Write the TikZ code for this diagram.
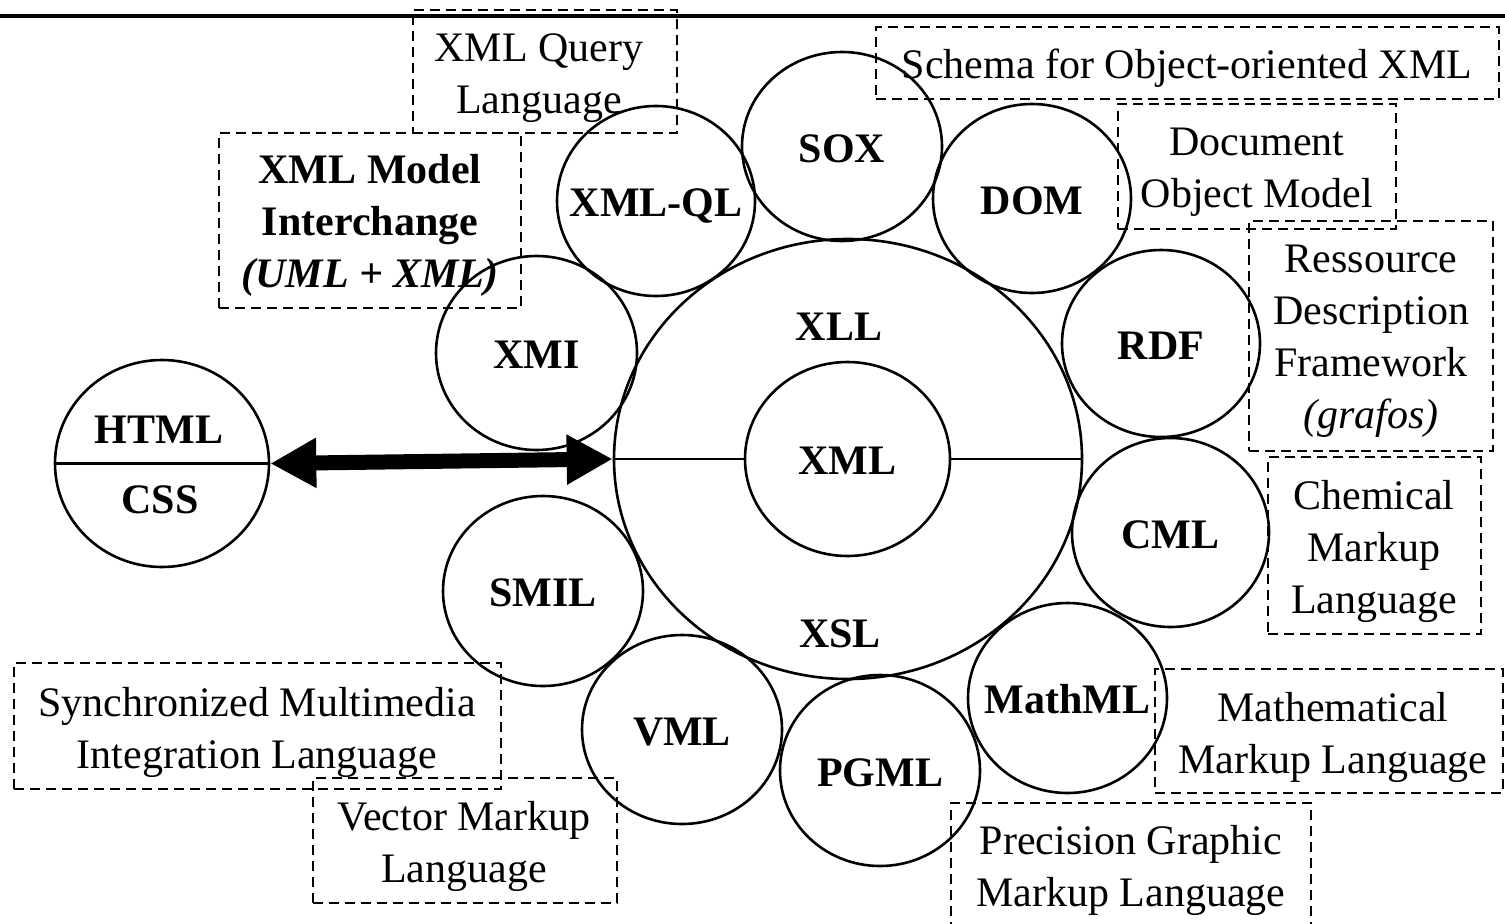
\documentclass[tikz,border=0pt]{standalone}
\usepackage{fontspec}
\setmainfont{Liberation Serif}
\usetikzlibrary{shapes.geometric,arrows.meta}
\begin{document}
\begin{tikzpicture}[x=1bp,y=-1bp,
  circ/.style={draw, ellipse, line width=2.6bp, inner sep=0pt},
  lab/.style={font=\fontsize{42bp}{52bp}\selectfont\bfseries, inner sep=0pt, text height=31bp, text depth=0pt},
  desc/.style={font=\fontsize{42bp}{52bp}\selectfont, align=center, inner sep=0pt},
  dbox/.style={draw, rectangle, line width=2.4bp, dash pattern=on 10bp off 6bp, inner sep=0pt},
  thinline/.style={line width=2.4bp},
  dblarrow/.style={line width=15bp, {Triangle[length=46bp,width=47bp]}-{Triangle[length=46bp,width=47bp]}}
]
\clip (0,0) rectangle (1505,923);
\fill[white] (0,0) rectangle (1505,923);

% top rule
\coordinate (tl) at (0,16);
\coordinate (tr) at (1505,16);
\draw[line width=3.5bp] (tl) -- (tr);

% circles
\node[circ, minimum width=468bp, minimum height=440bp] (big) at (848,459) {};
\node[circ, minimum width=205bp, minimum height=194bp] (xml) at (847.5,459) {};
\node[circ, minimum width=214bp, minimum height=207bp] (html) at (162,463.5) {};
\node[circ, minimum width=200bp, minimum height=189bp] (sox) at (842,146.5) {};
\node[circ, minimum width=198bp, minimum height=189bp] (dom) at (1032,198.5) {};
\node[circ, minimum width=198bp, minimum height=190bp] (xmlql) at (656,201) {};
\node[circ, minimum width=201bp, minimum height=194bp] (xmi) at (536.5,353) {};
\node[circ, minimum width=198bp, minimum height=187bp] (rdf) at (1161,343.5) {};
\node[circ, minimum width=197bp, minimum height=189bp] (cml) at (1170.5,532.5) {};
\node[circ, minimum width=199bp, minimum height=190bp] (mathml) at (1067.5,698) {};
\node[circ, minimum width=200bp, minimum height=191bp] (pgml) at (880,770.5) {};
\node[circ, minimum width=200bp, minimum height=190bp] (smil) at (543,591) {};
\node[circ, minimum width=200bp, minimum height=189bp] (vml) at (682,729.5) {};

% circle labels
\node[lab] (xmlt) at (xml) {XML};
\node[lab] (soxt) at (sox) {SOX};
\node[lab] (domt) at (dom) {DOM};
\node[lab] (xmlqlt) at (xmlql) {XML-QL};
\node[lab] (xmit) at (xmi) {XMI};
\node[lab] (rdft) at (rdf) {RDF};
\node[lab] (cmlt) at (cml) {CML};
\node[lab] (mathmlt) at (mathml) {MathML};
\node[lab] (pgmlt) at (pgml) {PGML};
\node[lab] (smilt) at (smil) {SMIL};
\node[lab] (vmlt) at (vml) {VML};
\node[lab, anchor=base] (xll) at (839,340) {XLL};
\node[lab, anchor=base] (xsl) at (840,647) {XSL};
\node[lab, anchor=base] (htmlt) at (159,443) {HTML};
\node[lab, anchor=base] (csst) at (160,513) {CSS};

% inner lines
\draw[thinline] (html.west) -- (html.east);
\draw[thinline] (big.west) -- (xml.west);
\draw[thinline] (xml.east) -- (big.east);

% double arrow
\draw[dblarrow] (html.east) -- (big.west);

% dashed boxes
\node[dbox, minimum width=264bp, minimum height=123bp] (qbox) at (545,71.5) {};
\node[dbox, minimum width=302bp, minimum height=175bp] (xmibox) at (370,220.5) {};
\node[dbox, minimum width=623bp, minimum height=72bp] (soxbox) at (1187.5,63) {};
\node[dbox, minimum width=278bp, minimum height=125bp] (dombox) at (1257,166.5) {};
\node[dbox, minimum width=244bp, minimum height=230bp] (rdfbox) at (1371,336) {};
\node[dbox, minimum width=213bp, minimum height=177bp] (cmlbox) at (1374.5,545.5) {};
\node[dbox, minimum width=348bp, minimum height=124bp] (mathbox) at (1329,731) {};
\node[dbox, minimum width=360bp, minimum height=137bp] (pgmlbox) at (1131,871.5) {};
\node[dbox, minimum width=487bp, minimum height=126bp] (smilbox) at (257.5,726) {};
\node[dbox, minimum width=304bp, minimum height=125bp] (vmlbox) at (465,840.5) {};

% descriptions
\node[desc] (qtext) at (539,77.7) {XML Query\\Language};
\node[desc, font=\fontsize{42bp}{52bp}\selectfont\bfseries] (xmitext) at (370,225) {XML Model\\Interchange\\\textit{(UML + XML)}};
\node[desc, anchor=base] (soxtext) at (1187,78) {Schema for Object-oriented XML};
\node[desc] (domtext) at (1257,172) {Document\\Object Model};
\node[desc] (rdftext) at (1371,341) {Ressource\\Description\\Framework\\\textit{(grafos)}};
\node[desc] (cmltext) at (1374,551) {Chemical\\Markup\\Language};
\node[desc] (mathtext) at (1333,737) {Mathematical\\Markup Language};
\node[desc] (pgmltext) at (1131,870) {Precision Graphic\\Markup Language};
\node[desc] (smiltext) at (257,732) {Synchronized Multimedia\\Integration Language};
\node[desc] (vmltext) at (464,846) {Vector Markup\\Language};
\end{tikzpicture}
\end{document}
